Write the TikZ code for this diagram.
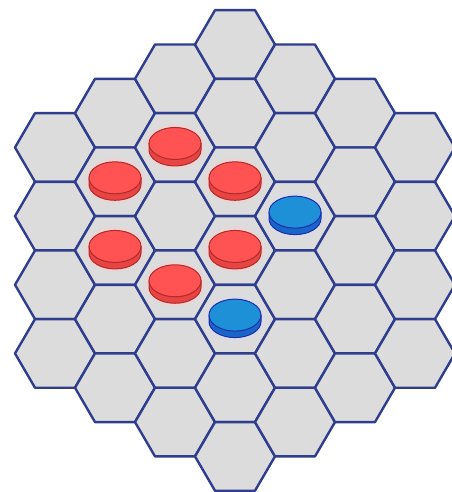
\documentclass[tikz,border=0pt]{standalone}
\usepackage{tikz}
\usepackage{xcolor}

\definecolor{boardgray}{HTML}{DCDCDC}
\definecolor{hexblue}{HTML}{2F3D8E}
\definecolor{redface}{HTML}{FF5252}
\definecolor{redrim}{HTML}{E84444}
\definecolor{redline}{HTML}{B02A2A}
\definecolor{blueface}{HTML}{1E90D8}
\definecolor{bluerim}{HTML}{1A66C8}
\definecolor{blueline}{HTML}{1A2FA8}

\begin{document}
\begin{tikzpicture}[x=1pt,y=-1pt,
  hexcell/.style={fill=boardgray, draw=hexblue, line width=2.4pt, line join=round},
  red disc rim/.style={fill=redrim, draw=redline, line width=1pt},
  red disc face/.style={fill=redface, draw=redline, line width=1pt},
  red disc glow/.style={fill=red!20, opacity=0.35},
  blue disc rim/.style={fill=bluerim, draw=blueline, line width=1pt},
  blue disc face/.style={fill=blueface, draw=blueline, line width=1pt},
  blue disc glow/.style={fill=blue!15, opacity=0.3}]

\useasboundingbox (0,0) rectangle (451,492);

% board: 37 cells in 7 columns
\foreach \q in {-3,...,3}{
    \pgfmathtruncatemacro{\last}{6-abs(\q)}
    \foreach \r in {0,...,\last}{
        \pgfmathsetmacro{\cx}{235+60*\q}
        \pgfmathsetmacro{\cy}{44.5+68.65*(\r+abs(\q)/2)}
        \draw[hexcell] (\cx,\cy) +(-20,-34.3) -- +(20,-34.3) -- +(40,0) -- +(20,34.3) -- +(-20,34.3) -- +(-40,0) -- cycle;
    }
}

% pieces (column/row/colour)
\foreach \q/\r/\pc in {-1/1/red, -2/1/red, 0/2/red, 1/2/blue, -2/2/red, 0/3/red, -1/3/red, 0/4/blue}{
    \pgfmathsetmacro{\cx}{235+60*\q}
    \pgfmathsetmacro{\cy}{44.5+68.65*(\r+abs(\q)/2)}
    \fill[\pc\space disc glow] (\cx,\cy-1) ellipse[x radius=30, y radius=23];
    \filldraw[\pc\space disc rim] (\cx-26,\cy-4) -- (\cx-26,\cy+2.5) arc[start angle=180, end angle=0, x radius=26, y radius=16] -- (\cx+26,\cy-4) -- cycle;
    \filldraw[\pc\space disc face] (\cx,\cy-4) ellipse[x radius=26, y radius=16];
}

\end{tikzpicture}
\end{document}
